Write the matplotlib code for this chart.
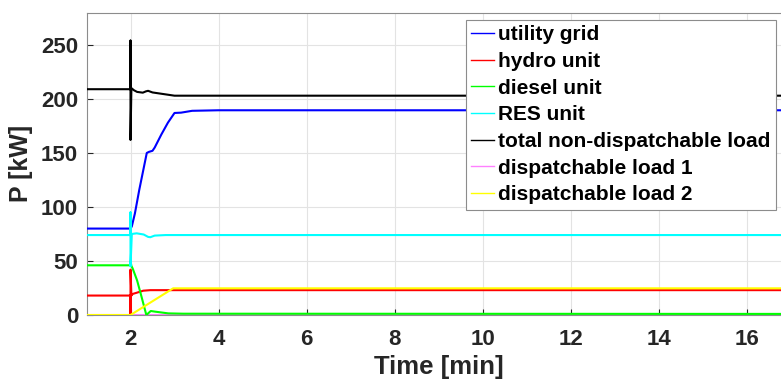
import matplotlib
matplotlib.use('Agg')
import matplotlib.pyplot as plt

# --- data (time in min, power in kW) ---
grid_t = [1, 2, 2.03, 2.1, 2.2, 2.29, 2.37, 2.42, 2.5, 2.55, 2.7, 2.85, 3.0, 3.15, 3.4, 4.0, 17]
grid_p = [80, 80, 82, 94, 116, 134, 150, 151, 152, 155, 167, 178, 187, 187.3, 189, 189.5, 189.5]

hydro_t = [1, 2, 2, 2, 2.02, 2.05, 2.14, 2.29, 2.45, 3.0, 17]
hydro_p = [18, 18, 0, 42, 18, 19.5, 20.6, 22.5, 23, 23, 23]

diesel_t = [1, 2, 2, 2.02, 2.05, 2.15, 2.25, 2.33, 2.36, 2.46, 2.56, 2.86, 3.2, 17]
diesel_p = [46, 46, 50, 45.5, 43, 32, 17, 4.6, 0, 3.7, 3.1, 1.5, 1.2, 1.0]

res_t = [1, 2, 2, 2, 2.03, 2.14, 2.3, 2.4, 2.45, 2.55, 2.8, 17]
res_p = [74, 74, 95, 45, 75, 75.6, 74.5, 72.3, 72, 73.5, 74, 74]

load_t = [1, 2, 2, 2, 2.02, 2.08, 2.15, 2.28, 2.35, 2.4, 2.5, 3.0, 17]
load_p = [209, 209, 254, 162, 210, 208, 206.5, 205.8, 207, 207.5, 206, 203, 203]

dload1_t = [1, 17]
dload1_p = [0, 0]

dload2_t = [1, 2, 2.97, 17]
dload2_p = [0, 0, 24.7, 24.7]

LABELS = ["utility grid", "hydro unit", "diesel unit", "RES unit",
          "total non-dispatchable load", "dispatchable load 1", "dispatchable load 2"]
COLORS = ["#0000ff", "#ff0000", "#00ff00", "#00ffff", "#000000", "#ff80ff", "#ffff00"]

plt.rcParams['font.family'] = ['Liberation Sans', 'DejaVu Sans']
plt.rcParams['font.weight'] = 'bold'

fig = plt.figure(figsize=(7.81, 3.81), dpi=100)
# axes runs slightly past the right edge of the picture, as in the reference
ax = fig.add_axes([86.5 / 781, 66 / 381, 704 / 781, 302.5 / 381])

series = [(grid_t, grid_p), (hydro_t, hydro_p), (diesel_t, diesel_p), (res_t, res_p),
          (load_t, load_p), (dload1_t, dload1_p), (dload2_t, dload2_p)]
zorders = [3, 3, 3, 3, 3, 1, 3]
for (t, p), lab, col, z in zip(series, LABELS, COLORS, zorders):
    ax.plot(t, p, color=col, linewidth=1.5, label=lab, zorder=z)

ax.set_xlim(1, 17)
ax.set_ylim(0, 280)
ax.set_xticks([2, 4, 6, 8, 10, 12, 14, 16])
ax.set_yticks([0, 50, 100, 150, 200, 250])
ax.grid(True, color='#e3e3e3', linewidth=0.8)
ax.set_axisbelow(True)
for s in ax.spines.values():
    s.set_color('#8c8c8c')
    s.set_linewidth(0.8)
ax.tick_params(direction='in', length=4, width=0.8, color='#262626',
               labelsize=16, labelcolor='#262626')
ax.tick_params(axis='x', pad=10)
ax.tick_params(axis='y', pad=6)
for lbl in ax.get_xticklabels() + ax.get_yticklabels():
    lbl.set_fontweight('bold')

ax.set_xlabel("Time [min]", fontsize=18.5, fontweight='bold', color='#262626', labelpad=4)
ax.set_ylabel("P [kW]", fontsize=18, fontweight='bold', color='#262626', labelpad=6)

leg = ax.legend(loc='upper right', bbox_to_anchor=(776 / 781, 1 - 20 / 381),
                bbox_transform=fig.transFigure, borderaxespad=0,
                handlelength=1.1, handletextpad=0.2,
                labelspacing=0.37, borderpad=0.25, fancybox=False,
                framealpha=1, edgecolor='#8c8c8c', prop={'weight': 'bold', 'size': 15})
leg.get_frame().set_linewidth(0.8)
for line in leg.get_lines():
    line.set_linewidth(1.0)

fig.savefig("out.png", dpi=100)
